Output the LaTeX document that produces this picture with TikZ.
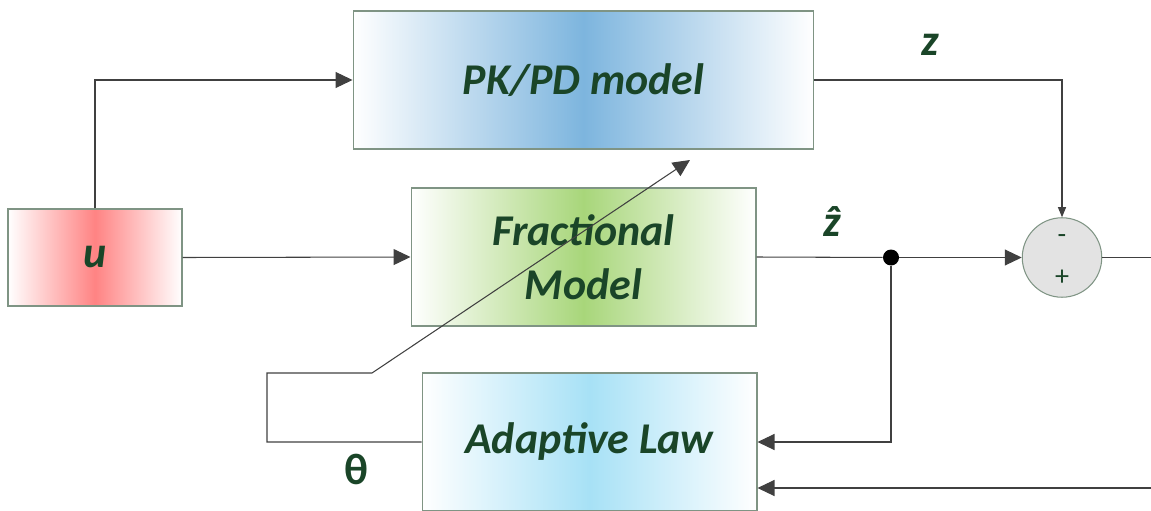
\documentclass[tikz,border=0pt]{standalone}
\usepackage{fontspec}
\setmainfont{Carlito}
\usetikzlibrary{arrows.meta}

\definecolor{txtgreen}{HTML}{1A4528}
\definecolor{boxgray}{HTML}{7F9484}
\definecolor{wiregray}{HTML}{404040}
\definecolor{pkblue}{HTML}{7DB5DE}
\definecolor{fracgreen}{HTML}{A8D67A}
\definecolor{lawblue}{HTML}{A7E1F6}
\definecolor{ured}{HTML}{FF8383}
\definecolor{sumgray}{HTML}{E3E3E3}

\begin{document}
\begin{tikzpicture}[x=0.02cm,y=-0.02cm,
	block/.style={draw=boxgray, line width=0.6pt, left color=white, right color=white, inner sep=0pt, align=center,
		text=txtgreen, font=\fontsize{25}{31}\selectfont\bfseries\itshape},
	wire/.style={draw=wiregray, line width=0.6pt},
	arr/.style={wire, -{Triangle[length=0.34cm,width=0.32cm]}},
	smallarr/.style={wire, -{Triangle[length=0.2cm,width=0.16cm]}},
	sig/.style={text=txtgreen, font=\fontsize{25}{31}\selectfont\bfseries\itshape}]
	\useasboundingbox (0,0) rectangle (1151,510);
	\node[block, middle color=pkblue, minimum width=9.22cm, minimum height=2.76cm] (pkpd) at (583.5,80) {PK/PD model};
	\node[block, middle color=fracgreen, minimum width=6.9cm, minimum height=2.76cm] (frac) at (583.5,257) {Fractional\\Model};
	\node[block, middle color=lawblue, minimum width=6.7cm, minimum height=2.76cm] (law) at (589.5,442) {Adaptive Law};
	\node[block, middle color=ured, minimum width=3.48cm, minimum height=1.94cm] (u) at (95,257.5) {u};
	\node[circle, draw=boxgray, fill=sumgray, line width=0.6pt, minimum size=1.59cm, inner sep=0pt] (sum) at (1062,257.5) {};
	\node[text=txtgreen, font=\fontsize{16}{16}\selectfont] (minus) at (1062,239) {-};
	\node[text=txtgreen, font=\fontsize{16}{16}\selectfont] (plus) at (1062,278) {+};
	\node[circle, fill=black, minimum size=0.32cm, inner sep=0pt] (dot) at (891,257.5) {};
	\node[sig] (z) at (930,45) {z};
	\node[sig] (zhat) at (832,222) {ẑ};
	\node[text=txtgreen, font=\fontsize{25}{31}\selectfont\bfseries] (theta) at (356,469) {θ};
	\coordinate (t1) at (267,373);
	\coordinate (t2) at (372,373);
	\coordinate (tip) at (690,160);
	\coordinate (out) at (1151,257.5);
	\coordinate (fb) at (1151,488);
	\draw[arr] (u.north) |- (pkpd.west);
	\draw[arr] (u.east) -- (frac.west);
	\draw[smallarr] (pkpd.east) -| (sum.north);
	\draw[wire] (frac.east) -- (dot);
	\draw[arr] (dot) -- (sum.west);
	\draw[wire] (sum.east) -- (out);
	\draw[arr] (dot) |- (law.east);
	\draw[arr] (fb) -- (fb -| law.east);
	\draw[arr] (law.west) -| (t1) -- (t2) -- (tip);
\end{tikzpicture}
\end{document}
